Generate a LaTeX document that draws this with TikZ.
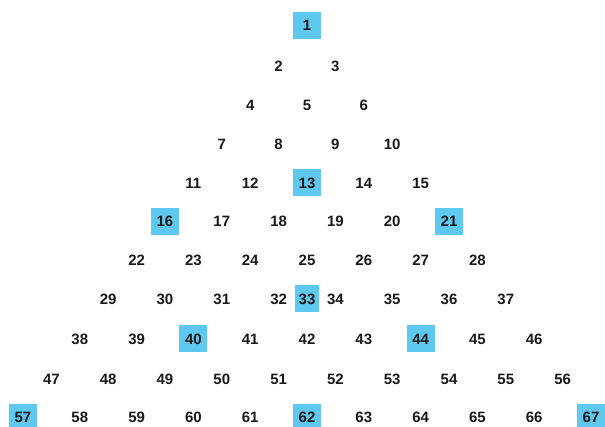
\documentclass[tikz,border=0pt]{standalone}
\usepackage{fontspec}
\setmainfont{Liberation Sans}
\definecolor{hlblue}{RGB}{95,200,240}
\definecolor{numtext}{RGB}{25,25,25}
\begin{document}
\begin{tikzpicture}[x=1pt,y=-1pt,
  num/.style={font=\fontsize{15}{15}\selectfont\bfseries, text=numtext, inner sep=0pt, minimum width=28pt, minimum height=27pt},
  c1/.style={fill=hlblue}, c13/.style={fill=hlblue}, c16/.style={fill=hlblue},
  c21/.style={fill=hlblue}, c33/.style={fill=hlblue, minimum width=24pt},
  c40/.style={fill=hlblue}, c44/.style={fill=hlblue}, c57/.style={fill=hlblue},
  c62/.style={fill=hlblue}, c67/.style={fill=hlblue}]
\useasboundingbox (0,0) rectangle (605,427);
\foreach \first/\k/\yy in {1/1/25.5, 2/2/66, 4/3/105, 7/4/144, 11/5/183, 16/6/221.5, 22/7/260, 38/9/339, 47/10/379, 57/11/417.5} {
  \foreach \i in {1,...,\k} {
    \pgfmathtruncatemacro\n{\first+\i-1}
    \node[num, c\n/.try] (n\n) at ({307+(\i-(\k+1)/2)*56.8}, \yy) {\n};
  }
}
\foreach \n/\xx in {29/108.2, 30/165, 31/221.8, 32/278.6, 34/335.4, 35/392.2, 36/449, 37/505.8} {
  \node[num] (n\n) at (\xx, 299) {\n};
}
\node[num, c33] (n33) at (307, 299) {33};
\end{tikzpicture}
\end{document}
